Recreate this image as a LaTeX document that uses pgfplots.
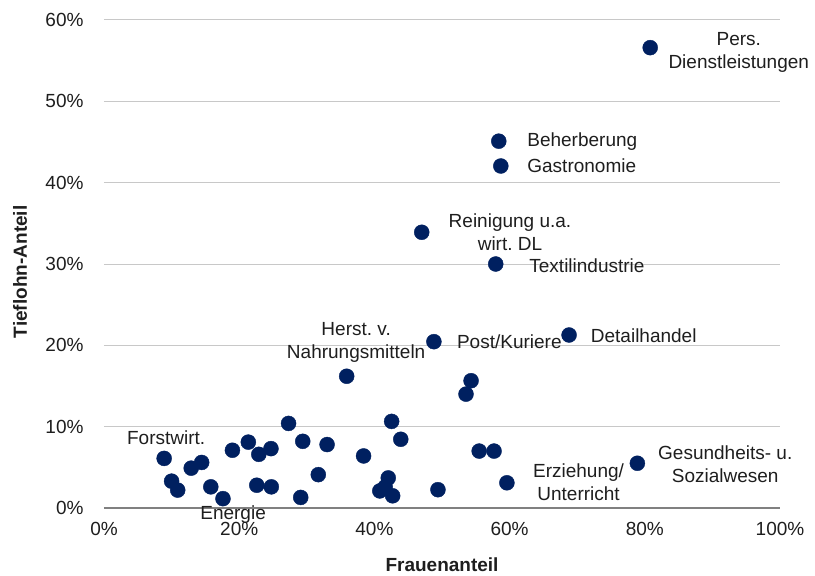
\documentclass[border=0pt]{standalone}
\usepackage{fontspec}
\setmainfont{Liberation Sans}
\usepackage{pgfplots}
\pgfplotsset{compat=1.18}
\frenchspacing
\definecolor{navy}{RGB}{0,32,96}
\definecolor{txt}{RGB}{30,30,30}
\definecolor{gridc}{RGB}{200,200,200}
\definecolor{axisc}{RGB}{128,128,128}
\begin{document}
\begin{tikzpicture}
\begin{axis}[
  scale only axis,
  width=676bp, height=488bp,
  xmin=0, xmax=100, ymin=0, ymax=60,
  xtick={0,20,40,60,80,100},
  ytick={10,20,30,40,50,60},
  extra y ticks={0},
  extra y tick style={grid style={draw=axisc, line width=2bp}},
  xticklabel={\pgfmathprintnumber{\tick}\%},
  yticklabel={\pgfmathprintnumber{\tick}\%},
  /pgf/number format/assume math mode=true,
  ymajorgrids,
  grid style={draw=gridc, line width=1bp},
  axis line style={draw=none},
  major tick length=0pt,
  tick style={draw=none},
  clip=false,
  every tick label/.append style={font=\fontsize{19bp}{23bp}\selectfont, text=txt},
  xticklabel style={yshift=-11bp},
  yticklabel style={xshift=-17bp},
  xlabel={\textbf{Frauenanteil}},
  ylabel={\textbf{Tieflohn-Anteil}},
  xlabel style={at={(axis description cs:0.5,0)}, anchor=center, yshift=-57bp, font=\fontsize{19bp}{23bp}\selectfont, text=txt},
  ylabel style={at={(axis description cs:0,0.484)}, anchor=center, yshift=84bp, font=\fontsize{19bp}{23bp}\selectfont, text=txt},
]
\addplot[only marks, mark=*, mark size=7.5bp, mark options={draw=navy, fill=navy}] coordinates {
(80.8,56.6) (58.4,45.1) (58.7,42.05) (47.0,33.9) (57.95,30.0) (68.8,21.27)
(48.8,20.45) (35.9,16.2) (54.3,15.65) (53.55,14.0) (27.3,10.4) (42.55,10.65)
(29.4,8.2) (33.0,7.8) (43.9,8.45) (38.4,6.4) (55.5,7.0) (57.7,7.0)
(31.7,4.1) (42.05,3.7) (41.6,2.6) (40.8,2.1) (42.7,1.5) (29.1,1.3)
(49.4,2.25) (59.6,3.1) (8.9,6.1) (19.0,7.1) (21.35,8.1) (22.9,6.6)
(24.7,7.3) (12.9,4.9) (14.45,5.6) (10.0,3.3) (10.9,2.2) (15.8,2.6)
(17.6,1.15) (22.6,2.8) (24.75,2.6) (78.9,5.5)
};
\begin{scope}[every node/.style={font=\fontsize{19bp}{23bp}\selectfont, text=txt, inner sep=0pt}]
\node[align=center] at (axis cs:93.9,56.07) {Pers.\\Dienstleistungen};
\node[anchor=west] at (axis cs:62.6,45.1) {Beherberung};
\node[anchor=west] at (axis cs:62.6,42.1) {Gastronomie};
\node[align=center] at (axis cs:60.06,33.9) {Reinigung u.a.\\wirt. DL};
\node[anchor=west] at (axis cs:62.9,29.75) {Textilindustrie};
\node[anchor=west] at (axis cs:72.0,21.15) {Detailhandel};
\node[anchor=west] at (axis cs:52.2,20.4) {Post/Kuriere};
\node[align=center] at (axis cs:37.3,20.4) {Herst. v.\\Nahrungsmitteln};
\node at (axis cs:9.2,8.6) {Forstwirt.};
\node at (axis cs:19.1,-0.8) {Energie};
\node[align=center] at (axis cs:70.2,3.2) {Erziehung/\\Unterricht};
\node[align=center] at (axis cs:91.9,5.4) {Gesundheits- u.\\Sozialwesen};
\end{scope}
\end{axis}
\pgfresetboundingbox
\path[use as bounding box] (-104bp,-68bp) rectangle (711bp,508bp);
\end{tikzpicture}
\end{document}
